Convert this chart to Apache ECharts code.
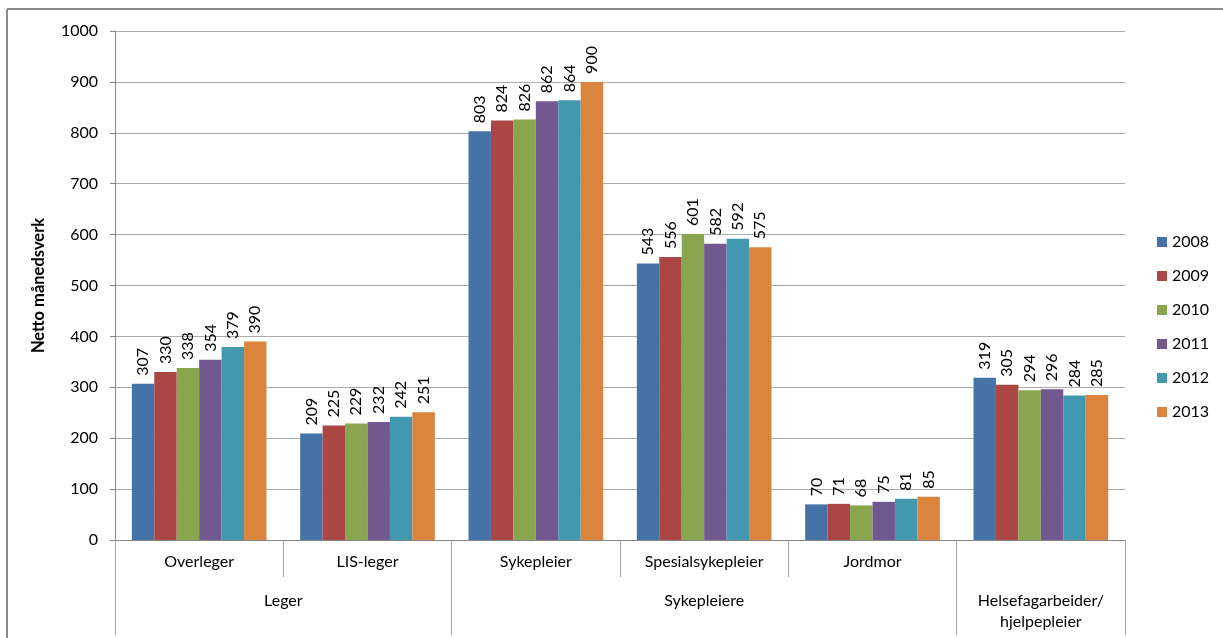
<!DOCTYPE html>
<html>
<head>
<meta charset="utf-8">
<script src="https://cdn.jsdelivr.net/npm/echarts@6/dist/echarts.min.js"></script>
<style>
html,body{margin:0;padding:0;background:#fff;}
#c{width:1223px;height:638px;}
</style>
</head>
<body>
<div id="c"></div>
<script>
var categories = ['Overleger','LIS-leger','Sykepleier','Spesialsykepleier','Jordmor','Helsefagarbeider/\nhjelpepleier'];
var catLabels = ['Overleger','LIS-leger','Sykepleier','Spesialsykepleier','Jordmor',''];
var groupNames = ['Leger','Sykepleiere','Helsefagarbeider/\nhjelpepleier'];
var groupSpans = [2,3,1];
var years = ['2008','2009','2010','2011','2012','2013'];
var v2008 = [307,209,803,543,70,319];
var v2009 = [330,225,824,556,71,305];
var v2010 = [338,229,826,601,68,294];
var v2011 = [354,232,862,582,75,296];
var v2012 = [379,242,864,592,81,284];
var v2013 = [390,251,900,575,85,285];
var yTicks = [0,100,200,300,400,500,600,700,800,900,1000];

var seriesValues = [v2008,v2009,v2010,v2011,v2012,v2013];
var colors = ['#4572A7','#AA4643','#89A54E','#71588F','#4198AF','#DB843D'];
var FONT = 'Lato';

var boundaries = [0], centers = [], acc = 0;
groupSpans.forEach(function(s){ centers.push(acc + s/2); acc += s; boundaries.push(acc); });

var chart = echarts.init(document.getElementById('c'));
chart.setOption({
  animation:false,
  textStyle:{fontFamily:FONT},
  color:colors,
  graphic:[
    {type:'line',shape:{x1:7,y1:9,x2:1223,y2:9},style:{stroke:'#8c8c8c',lineWidth:2}},
    {type:'line',shape:{x1:7,y1:9,x2:7,y2:638},style:{stroke:'#8c8c8c',lineWidth:2}}
  ],
  legend:{
    orient:'vertical',left:1152,top:229,
    itemWidth:10,itemHeight:10,itemGap:18,icon:'rect',
    textStyle:{fontFamily:FONT,fontSize:16,color:'#000'},
    data:years
  },
  grid:{left:115,right:98,top:31,bottom:98},
  xAxis:[
    {type:'category',data:catLabels,
     axisLine:{lineStyle:{color:'#868686',width:1}},
     axisTick:{show:true,length:37,lineStyle:{color:'#a6a6a6'}},
     axisLabel:{fontFamily:FONT,fontSize:16,color:'#000',margin:14,interval:0}
    },
    {type:'value',min:0,max:categories.length,position:'bottom',
     axisLine:{show:false},
     splitLine:{show:false},
     axisTick:{show:true,customValues:boundaries,length:95,lineStyle:{color:'#a6a6a6'}},
     axisLabel:{customValues:centers,fontFamily:FONT,fontSize:16,color:'#000',margin:50,lineHeight:21,
       formatter:function(v){var i=centers.indexOf(v);return i>=0?groupNames[i]:'';}}
    }
  ],
  yAxis:{type:'value',min:0,max:1000,interval:100,
    name:'Netto månedsverk',nameLocation:'middle',nameGap:68,
    nameTextStyle:{fontFamily:FONT,fontSize:16.5,fontWeight:'bold',color:'#000'},
    axisLine:{show:true,lineStyle:{color:'#868686'}},
    axisTick:{show:true,length:5,lineStyle:{color:'#868686'}},
    axisLabel:{fontFamily:FONT,fontSize:16,color:'#000',margin:17,
      formatter:function(v){return yTicks.indexOf(v)>=0?String(v):'';}},
    splitLine:{show:true,lineStyle:{color:'#ababab',width:1}}
  },
  series:years.map(function(y,i){
    return {name:y,type:'bar',xAxisIndex:0,data:seriesValues[i],
      barGap:'0%',barCategoryGap:'20%',
      label:{show:true,position:'top',rotate:90,align:'left',verticalAlign:'middle',distance:8,
        fontFamily:FONT,fontSize:16,color:'#000'}};
  })
});
</script>
</body>
</html>
